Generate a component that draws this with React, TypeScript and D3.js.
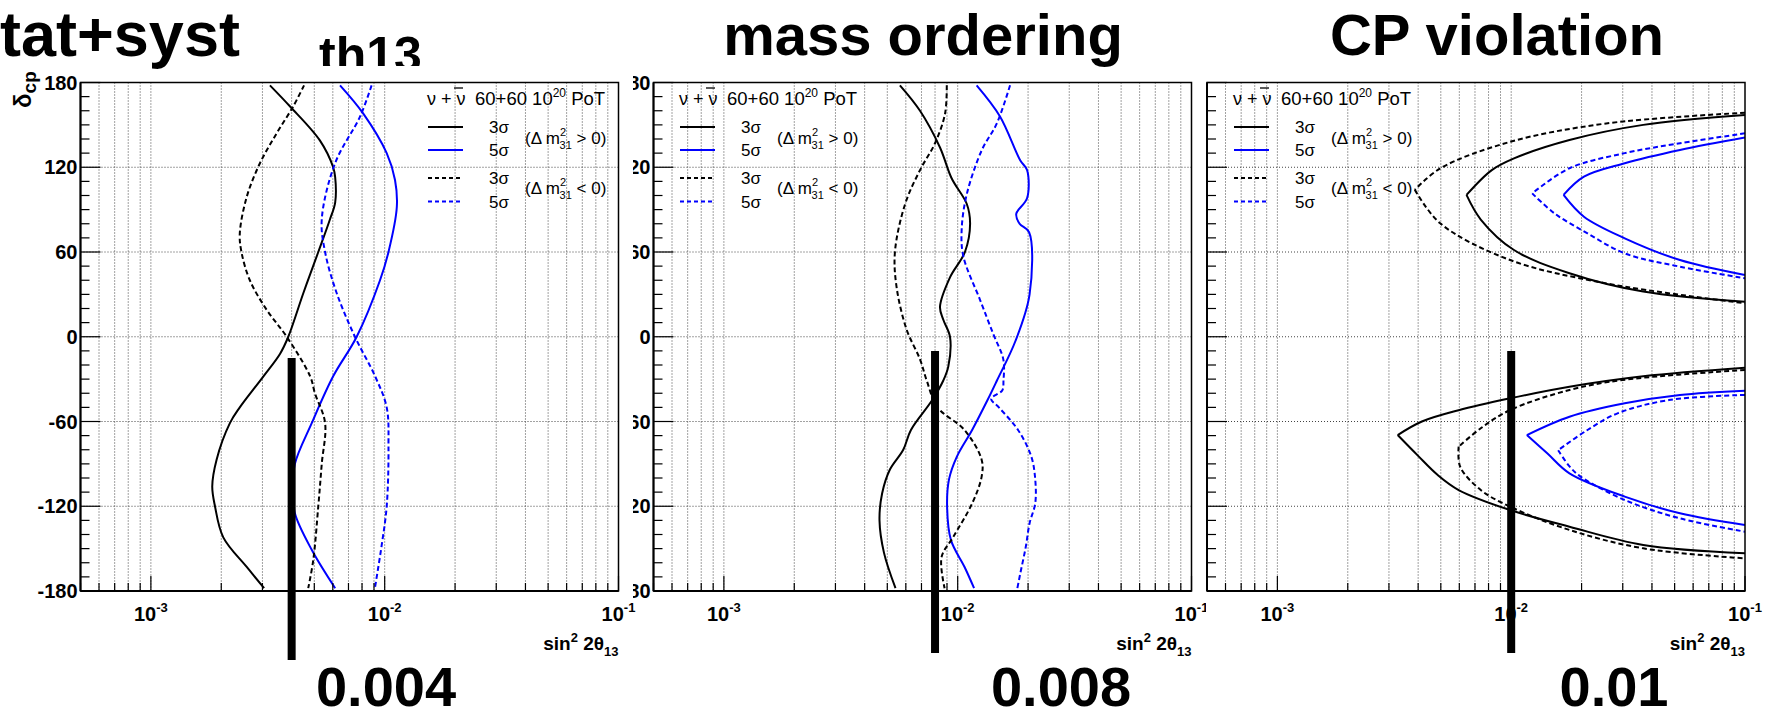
import React from 'react';
import * as d3 from 'd3';

type Pt = [number, number]; // [deltaCP (deg), sin^2 2theta13]

const FONT = "'Liberation Sans', Arial, Helvetica, sans-serif";
const BLUE = '#0000ff';

// ---------- axes / labels ----------
const xDomain: [number, number] = [5e-4, 0.1];
const yDomain: [number, number] = [-180, 180];
const yMajorTicks = [180, 120, 60, 0, -60, -120, -180];
const yGridTicks = [120, 60, 0, -60, -120];
const xDecades = [1e-3, 1e-2, 1e-1];
const xDecadeExp = ['-3', '-2', '-1'];
const panelTitles = ['stat+syst', 'mass ordering', 'CP violation'];
const thresholdValues = [0.004, 0.008, 0.01];
const thresholdLabels = ['0.004', '0.008', '0.01'];
const legendSigmas = ['3σ', '5σ', '3σ', '5σ'];
const legendSigns = ['>', '<'];

// ---------- panel 1 : th13 ----------
const p1_3s_pos: Pt[] = [[178,0.00323],[163,0.00394],[139,0.00528],[120,0.00602],[113,0.00614],[95,0.00614],[83,0.00583],[60,0.0052],[31,0.00449],[0,0.00387],[-12,0.00357],[-28,0.00303],[-50,0.0024],[-61,0.00218],[-87,0.00191],[-106,0.00183],[-120,0.00188],[-142,0.00204],[-163,0.00257],[-178,0.00305]];
const p1_5s_pos: Pt[] = [[178,0.00644],[158,0.0081],[130,0.0102],[111,0.01107],[92,0.01127],[60,0.01038],[40,0.00955],[0,0.00759],[-28,0.00602],[-61,0.00488],[-90,0.00413],[-108,0.00406],[-125,0.00413],[-151,0.00488],[-178,0.00614]];
const p1_3s_neg: Pt[] = [[178,0.00452],[163,0.00406],[144,0.00345],[123,0.00293],[99,0.00257],[73,0.0024],[60,0.00244],[40,0.00265],[19,0.00313],[0,0.00381],[-28,0.0048],[-40,0.00503],[-61,0.00556],[-90,0.00538],[-120,0.0052],[-158,0.00495],[-178,0.00471]];
const p1_5s_neg: Pt[] = [[178,0.00879],[156,0.00785],[123,0.00614],[83,0.00538],[60,0.00556],[31,0.00623],[0,0.00746],[-28,0.0091],[-50,0.0102],[-78,0.01038],[-120,0.0102],[-148,0.0097],[-177,0.0091]];

// ---------- panel 2 : mass ordering ----------
const p2_3s_pos: Pt[] = [[178,0.00566],[160,0.0069],[134,0.0084],[112,0.00943],[94,0.01094],[80,0.0113],[60,0.01074],[42,0.00927],[21,0.0084],[12,0.00868],[0,0.00927],[-21,0.00912],[-31,0.00868],[-45,0.00777],[-66,0.00631],[-80,0.00585],[-94,0.00513],[-111,0.00475],[-130,0.00463],[-153,0.00484],[-178,0.00542]];
const p2_5s_pos: Pt[] = [[178,0.01205],[156,0.01517],[125,0.0185],[118,0.0198],[98,0.0198],[87,0.0178],[80,0.0184],[74,0.0202],[30,0.0203],[-3,0.01766],[-31,0.01472],[-45,0.0134],[-66,0.01153],[-85,0.00991],[-101,0.00918],[-120,0.00901],[-144,0.00936],[-163,0.0107],[-178,0.01175]];
const p2_3s_neg: Pt[] = [[178,0.00898],[158,0.00883],[137,0.008],[118,0.0069],[94,0.00596],[60,0.00539],[35,0.00548],[5,0.00605],[-16,0.0069],[-31,0.00737],[-50,0.0082],[-66,0.01069],[-87,0.01266],[-99,0.01266],[-118,0.01153],[-142,0.00955],[-156,0.00853],[-178,0.00879]];
const p2_5s_neg: Pt[] = [[178,0.01675],[151,0.0147],[132,0.01267],[101,0.01094],[76,0.0104],[57,0.01057],[26,0.01247],[2,0.01419],[-16,0.01567],[-31,0.0157],[-38,0.0155],[-44,0.0139],[-50,0.015],[-66,0.01812],[-85,0.02066],[-101,0.02146],[-118,0.02146],[-132,0.0203],[-149,0.01954],[-168,0.0185],[-178,0.018]];

// ---------- panel 3 : CP violation (contours) ----------
const p3_3s_pos_up: Pt[] = [[157,0.1],[150,0.0367],[139.3,0.01775],[126.3,0.01028],[118,0.00826],[100.4,0.00644],[83,0.00741],[61.4,0.01028],[45,0.01775],[32,0.0367],[24.8,0.1]];
const p3_3s_neg_up: Pt[] = [[158.6,0.1],[151,0.0255],[138,0.0099],[119.2,0.00497],[104,0.00387],[80.3,0.00497],[54.3,0.0099],[37.8,0.0255],[23.7,0.1]];
const p3_5s_pos_up: Pt[] = [[141,0.1],[132.2,0.0527],[122.8,0.0306],[113.3,0.02047],[100.4,0.01675],[85,0.02047],[69.7,0.0306],[54.3,0.0527],[43.7,0.1]];
const p3_5s_neg_up: Pt[] = [[144,0.1],[137,0.0527],[130,0.0306],[119.3,0.01775],[101.5,0.0123],[87.4,0.0153],[73.2,0.0212],[59,0.0306],[49.6,0.0527],[41.4,0.1]];
const p3_3s_pos_lo: Pt[] = [[-22,0.1],[-28,0.0367],[-35.4,0.01775],[-43.6,0.0099],[-52,0.00596],[-60,0.00415],[-69.6,0.00327],[-84,0.00398],[-97.9,0.00485],[-108.5,0.00596],[-122.7,0.0099],[-134.5,0.01775],[-147.4,0.0367],[-153.3,0.1]];
const p3_3s_neg_lo: Pt[] = [[-23.5,0.1],[-30.6,0.03],[-37.7,0.01775],[-51.9,0.0099],[-64.8,0.00741],[-77.8,0.00596],[-92,0.00605],[-108.5,0.00741],[-120.3,0.0099],[-136.8,0.01775],[-149.8,0.0367],[-156.9,0.1]];
const p3_5s_pos_lo: Pt[] = [[-38.2,0.1],[-41.2,0.0527],[-47.1,0.0306],[-56.6,0.01775],[-69.6,0.01167],[-82.5,0.01426],[-96.7,0.01775],[-113.2,0.0306],[-125,0.0527],[-133.3,0.1]];
const p3_5s_neg_lo: Pt[] = [[-41.2,0.1],[-44.8,0.0473],[-54.2,0.0285],[-66,0.0212],[-80.3,0.01588],[-92,0.0178],[-99,0.0198],[-115.6,0.0306],[-128.6,0.0527],[-138,0.1]];

// ---------- layout ----------
const PANEL_LEFT = [80.5, 653.5, 1207];
const PANEL_W = 538;
const TOP = 82.5;
const BOTTOM = 591;
const LEGEND_X = [428, 680, 1234];

interface Curve { pts: Pt[]; color: string; dash: boolean; split?: boolean }

const panelCurves: Curve[][] = [
  [
    { pts: p1_3s_pos, color: '#000', dash: false },
    { pts: p1_5s_pos, color: BLUE, dash: false },
    { pts: p1_3s_neg, color: '#000', dash: true },
    { pts: p1_5s_neg, color: BLUE, dash: true },
  ],
  [
    { pts: p2_3s_pos, color: '#000', dash: false },
    { pts: p2_5s_pos, color: BLUE, dash: false },
    { pts: p2_3s_neg, color: '#000', dash: true },
    { pts: p2_5s_neg, color: BLUE, dash: true },
  ],
  [
    { pts: p3_3s_pos_up, color: '#000', dash: false, split: true },
    { pts: p3_3s_neg_up, color: '#000', dash: true, split: true },
    { pts: p3_5s_pos_up, color: BLUE, dash: false, split: true },
    { pts: p3_5s_neg_up, color: BLUE, dash: true, split: true },
    { pts: p3_3s_pos_lo, color: '#000', dash: false, split: true },
    { pts: p3_3s_neg_lo, color: '#000', dash: true, split: true },
    { pts: p3_5s_pos_lo, color: BLUE, dash: false, split: true },
    { pts: p3_5s_neg_lo, color: BLUE, dash: true, split: true },
  ],
];

const DASH = '5 3';

function branches(c: Curve): Pt[][] {
  if (!c.split) return [c.pts];
  // split a contour at its tip (smallest sin^2 2theta13) so the tip stays sharp
  const i = d3.minIndex(c.pts, p => p[1]);
  return [c.pts.slice(0, i + 1), c.pts.slice(i)];
}

function Legend({ L }: { L: number }) {
  const lineYs = [127, 150, 178, 201.5];
  const colors = ['#000', BLUE, '#000', BLUE];
  const dashes = [false, false, true, true];
  return (
    <g fontFamily={FONT} fill="#000">
      <text x={L - 1} y={105} fontSize={18}>ν + ν</text>
      <line x1={L + 26} x2={L + 35} y1={88} y2={88} stroke="#000" strokeWidth={1.3} />
      <text x={L + 47} y={105} fontSize={18.5}>
        60+60 10<tspan fontSize={12} dy={-8}>20</tspan><tspan dy={8}> PoT</tspan>
      </text>
      {lineYs.map((y, i) => (
        <g key={i}>
          <line x1={L} x2={L + 35} y1={y} y2={y} stroke={colors[i]} strokeWidth={2}
            strokeDasharray={dashes[i] ? '4 3' : undefined} />
          <text x={L + 61} y={y + 6} fontSize={17}>{legendSigmas[i]}</text>
        </g>
      ))}
      {legendSigns.map((s, i) => (
        <text key={s} x={L + 97} y={i === 0 ? 144 : 194} fontSize={17}>
          (Δ m<tspan fontSize={11} dy={-8}>2</tspan><tspan fontSize={11} dx={-6.5} dy={13}>31</tspan>
          <tspan fontSize={17} dy={-5}> {s} 0)</tspan>
        </text>
      ))}
    </g>
  );
}

function Panel({ idx, showYTitle }: { idx: number; showYTitle: boolean }) {
  const left = PANEL_LEFT[idx];
  const right = left + PANEL_W;
  const xs = d3.scaleLog().domain(xDomain).range([left, right]);
  const ys = d3.scaleLinear().domain(yDomain).range([BOTTOM, TOP]);
  const xt = xs.ticks();
  const gridX = xt.filter(v => v > xDomain[0] * 1.001 && v < xDomain[1] * 0.999);
  const yMinor = d3.range(-180, 181, 10);
  const line = d3.line<Pt>().x(p => xs(p[1])).y(p => ys(p[0])).curve(d3.curveCatmullRom.alpha(0.5));
  const clipId = `frameclip${idx}`;
  const isMajor = (v: number) => Math.abs(Math.log10(v) - Math.round(Math.log10(v))) < 1e-6;

  return (
    <g fontFamily={FONT}>
      <defs>
        <clipPath id={clipId}>
          <rect x={left} y={TOP} width={PANEL_W} height={BOTTOM - TOP} />
        </clipPath>
      </defs>
      {gridX.map(v => (
        <line key={'gx' + v} x1={xs(v)} x2={xs(v)} y1={TOP} y2={BOTTOM}
          stroke="#444" strokeWidth={1} strokeDasharray="1 2" />
      ))}
      {yGridTicks.map(d => (
        <line key={'gy' + d} x1={left} x2={right} y1={ys(d)} y2={ys(d)}
          stroke="#444" strokeWidth={1} strokeDasharray="1 2" />
      ))}
      <g clipPath={`url(#${clipId})`}>
        {panelCurves[idx].map((c, i) => branches(c).map((b, j) => (
          <path key={i + '-' + j} d={line(b) || ''} fill="none" stroke={c.color} strokeWidth={2}
            strokeLinejoin="miter" strokeDasharray={c.dash ? DASH : undefined} />
        )))}
      </g>
      {xt.map(v => (
        <line key={'tx' + v} x1={xs(v)} x2={xs(v)} y1={BOTTOM} y2={BOTTOM - (isMajor(v) ? 15 : 8)}
          stroke="#000" strokeWidth={1.2} />
      ))}
      {yMinor.map(d => (
        <line key={'ty' + d} x1={left} x2={left + (d % 60 === 0 ? 20 : 9)} y1={ys(d)} y2={ys(d)}
          stroke="#000" strokeWidth={1.2} />
      ))}
      <rect x={left} y={TOP} width={PANEL_W} height={BOTTOM - TOP} fill="none" stroke="#000" strokeWidth={1.5} />
      <line x1={left} x2={right} y1={BOTTOM} y2={BOTTOM} stroke="#000" strokeWidth={2} />
      <line x1={left} x2={left} y1={TOP} y2={BOTTOM} stroke="#000" strokeWidth={2} />
      {idx !== 2 && yMajorTicks.map(d => (
        <text key={'yl' + d} x={left - 3} y={ys(d)} dy="0.36em" textAnchor="end"
          fontSize={20} fontWeight="bold">{d}</text>
      ))}
      {xDecades.map((v, i) => (
        <text key={'xl' + v} x={xs(v)} y={621} textAnchor="middle" fontSize={20} fontWeight="bold">
          10<tspan fontSize={13} dy={-9}>{xDecadeExp[i]}</tspan>
        </text>
      ))}
      <text x={right} y={650} textAnchor="end" fontSize={19} fontWeight="bold">
        sin<tspan fontSize={13} dy={-8}>2</tspan><tspan dy={8}> 2θ</tspan><tspan fontSize={13} dy={6}>13</tspan>
      </text>
      {showYTitle && (
        <text transform={`translate(31,108) rotate(-90)`} textAnchor="start" fontSize={24} fontWeight="bold">
          δ<tspan fontSize={19} dy={5}>cp</tspan>
        </text>
      )}
      <Legend L={LEGEND_X[idx]} />
    </g>
  );
}

export default function App() {
  const W = 1779, H = 714;
  const barScales = PANEL_LEFT.map(l => d3.scaleLog().domain(xDomain).range([l, l + PANEL_W]));
  const barTop = [358, 351, 351];
  const barBottom = [660, 653, 653];
  const numCenters = [386, 1061, 1614];
  return (
    <svg width={W} height={H} viewBox={`0 0 ${W} ${H}`}
      style={{ position: 'absolute', left: 0, top: 0, background: '#fff' }}>
      <rect x={0} y={0} width={W} height={H} fill="#fff" />
      <defs>
        <clipPath id="p2clip"><rect x={633} y={0} width={573} height={H} /></clipPath>
        <clipPath id="th13clip"><rect x={0} y={0} width={W} height={66} /></clipPath>
      </defs>
      <Panel idx={0} showYTitle={true} />
      <Panel idx={2} showYTitle={false} />
      <g clipPath="url(#p2clip)">
        <Panel idx={1} showYTitle={false} />
      </g>
      {/* titles */}
      <text x={-35} y={56} fontFamily={FONT} fontSize={63} fontWeight="bold">{panelTitles[0]}</text>
      <text x={319} y={72} fontFamily={FONT} fontSize={50} fontWeight="bold" clipPath="url(#th13clip)">th13</text>
      <text x={923} y={55} textAnchor="middle" fontFamily={FONT} fontSize={58} fontWeight="bold">{panelTitles[1]}</text>
      <text x={1497} y={55} textAnchor="middle" fontFamily={FONT} fontSize={58} fontWeight="bold">{panelTitles[2]}</text>
      {/* threshold bars */}
      {thresholdValues.map((v, i) => (
        <rect key={'bar' + i} x={barScales[i](v) - 4} y={barTop[i]} width={8} height={barBottom[i] - barTop[i]} fill="#000" />
      ))}
      {thresholdLabels.map((t, i) => (
        <text key={'num' + i} x={numCenters[i]} y={706} textAnchor="middle" fontFamily={FONT}
          fontSize={56} fontWeight="bold">{t}</text>
      ))}
    </svg>
  );
}
